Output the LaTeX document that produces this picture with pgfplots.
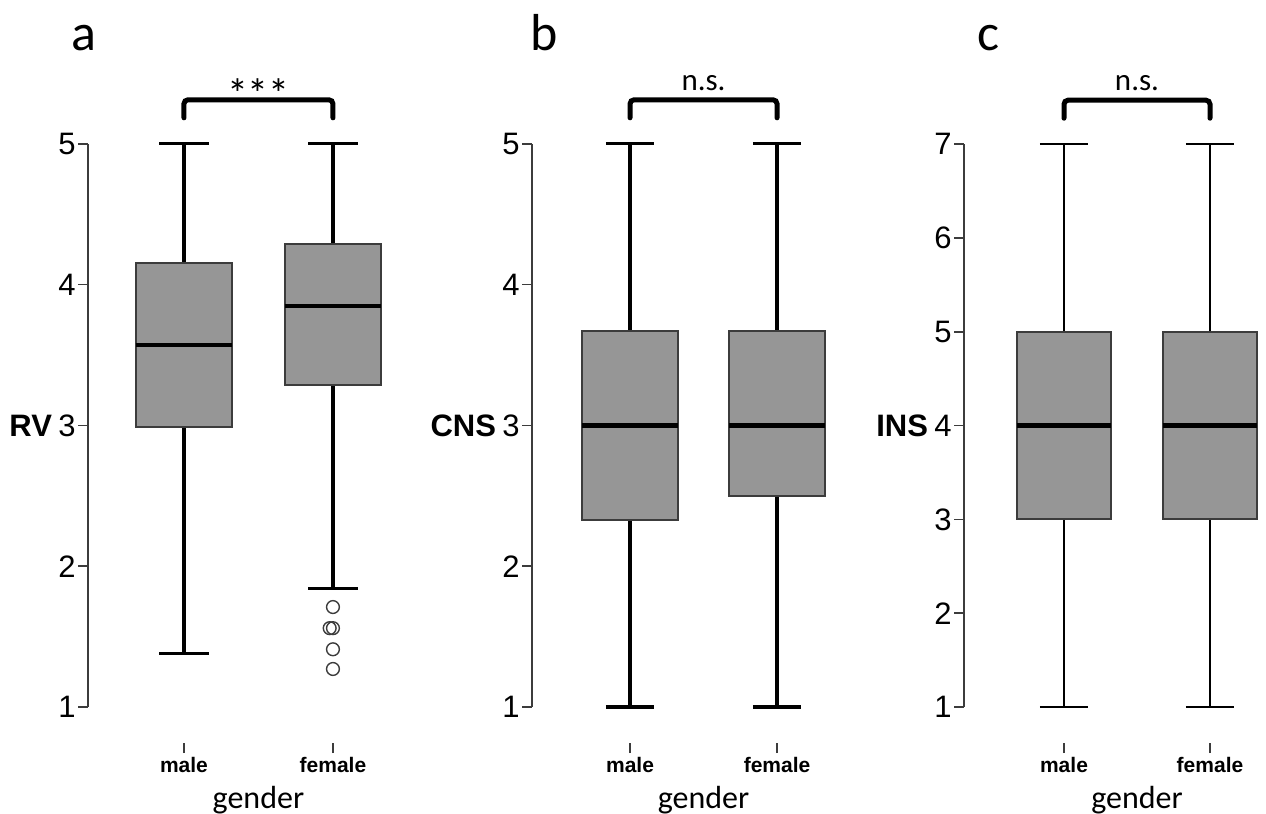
\documentclass[border=0pt]{standalone}
\usepackage{fontspec}
\setmainfont{Liberation Sans}
\newfontfamily\calibri{Carlito}
\usepackage{pgfplots}
\pgfplotsset{compat=1.18}
\usepgfplotslibrary{statistics}
\definecolor{boxgray}{HTML}{969696}
\definecolor{axgray}{HTML}{3C3C3C}

\pgfplotsset{
  spss/.style={
    anchor=south west,
    axis y line*=left,
    axis x line*=bottom,
    x axis line style={draw=none},
    y axis line style={axgray, line width=0.8pt},
    enlargelimits=false,
    clip=false,
    xmax=1.5,
    xtick={0,1},
    xticklabels={male,female},
    tick align=outside,
    major tick length=5pt,
    ytick style={axgray, line width=0.8pt},
    xtick style={axgray, line width=0.8pt, yshift=-18pt},
    xticklabel style={font=\fontsize{10.5}{12}\selectfont\bfseries, anchor=center, yshift=-24pt},
    yticklabel style={font=\fontsize{15.5}{18}\selectfont, inner sep=1pt},
    /pgf/number format/assume math mode=true,
    every axis y label/.style={at={(ticklabel cs:0.5)}, anchor=east, inner sep=2pt,
      font=\fontsize{15.5}{18}\selectfont\bfseries},
    boxplot/draw direction=y,
    boxplot/box extend=0.65,
    boxplot/whisker extend=0.33,
    boxplot/every box/.style={draw=axgray, fill=boxgray, line width=1pt},
    boxplot/every median/.style={draw=black, line width=2.2pt},
    boxplot/every whisker/.style={draw=black, line width=1.6pt},
  },
  bx/.style={black, mark=none, solid},
}

\begin{document}
\begin{tikzpicture}
\useasboundingbox (0,0) rectangle (633pt,-407pt);

% ---------- a: RV ----------
\begin{axis}[spss, at={(44pt,-353.5pt)}, x=74.5pt, y=70.4pt,
  xmin=-0.644, ymin=1, ymax=5, ytick={1,2,3,4,5}, ylabel={RV}]
  \addplot[bx, boxplot prepared={draw position=0, lower whisker=1.38,
    lower quartile=2.99, median=3.57, upper quartile=4.15, upper whisker=5}] coordinates {};
  \addplot[bx, boxplot prepared={draw position=1, lower whisker=1.84,
    lower quartile=3.29, median=3.85, upper quartile=4.29, upper whisker=5}] coordinates {};
  \addplot[only marks, mark=o, mark size=3.2pt, draw=axgray, line width=0.7pt]
    coordinates {(1,1.71) (0.978,1.56) (1,1.56) (1,1.41) (1,1.27)};
  \draw[line width=2.5pt, rounded corners=2pt, line cap=round]
    ([yshift=13pt]axis cs:0,5) |- ([yshift=22pt]axis cs:0.5,5) -| ([yshift=13pt]axis cs:1,5);
  \node[font=\calibri\fontsize{21}{24}\selectfont] at ([yshift=25pt]axis cs:0.5,5) {***};
  \node[font=\calibri\fontsize{16}{19}\selectfont] at ([yshift=-46.5pt]axis cs:0.5,1) {gender};
\end{axis}

% ---------- b: CNS ----------
\begin{axis}[spss, at={(266pt,-353.5pt)}, x=73.5pt, y=70.4pt,
  xmin=-0.667, ymin=1, ymax=5, ytick={1,2,3,4,5}, ylabel={CNS}]
  \addplot[bx, boxplot prepared={draw position=0, lower whisker=1,
    lower quartile=2.33, median=3, upper quartile=3.67, upper whisker=5}] coordinates {};
  \addplot[bx, boxplot prepared={draw position=1, lower whisker=1,
    lower quartile=2.5, median=3, upper quartile=3.67, upper whisker=5}] coordinates {};
  \draw[line width=2.5pt, rounded corners=2pt, line cap=round]
    ([yshift=13pt]axis cs:0,5) |- ([yshift=22pt]axis cs:0.5,5) -| ([yshift=13pt]axis cs:1,5);
  \node[font=\calibri\fontsize{15.5}{18}\selectfont] at ([yshift=30.5pt]axis cs:0.5,5) {n.s.};
  \node[font=\calibri\fontsize{16}{19}\selectfont] at ([yshift=-46.5pt]axis cs:0.5,1) {gender};
\end{axis}

% ---------- c: INS ----------
\begin{axis}[spss, at={(482pt,-353.5pt)}, x=73pt, y=46.9pt,
  xmin=-0.685, xmax=1.42, ymin=1, ymax=7, ytick={1,2,3,4,5,6,7}, ylabel={INS},
  boxplot/every whisker/.style={draw=black, line width=1.1pt}]
  \addplot[bx, boxplot prepared={draw position=0, lower whisker=1,
    lower quartile=3, median=4, upper quartile=5, upper whisker=7}] coordinates {};
  \addplot[bx, boxplot prepared={draw position=1, lower whisker=1,
    lower quartile=3, median=4, upper quartile=5, upper whisker=7}] coordinates {};
  \draw[line width=2.5pt, rounded corners=2pt, line cap=round]
    ([yshift=13pt]axis cs:0,7) |- ([yshift=22pt]axis cs:0.5,7) -| ([yshift=13pt]axis cs:1,7);
  \node[font=\calibri\fontsize{15.5}{18}\selectfont] at ([yshift=30.5pt]axis cs:0.5,7) {n.s.};
  \node[font=\calibri\fontsize{16}{19}\selectfont] at ([yshift=-46.5pt]axis cs:0.5,1) {gender};
\end{axis}

% panel letters
\node[font=\calibri\fontsize{26}{30}\selectfont, anchor=base] at (42pt,-25pt) {a};
\node[font=\calibri\fontsize{26}{30}\selectfont, anchor=base] at (272pt,-25pt) {b};
\node[font=\calibri\fontsize{26}{30}\selectfont, anchor=base] at (494pt,-25pt) {c};
\end{tikzpicture}
\end{document}
